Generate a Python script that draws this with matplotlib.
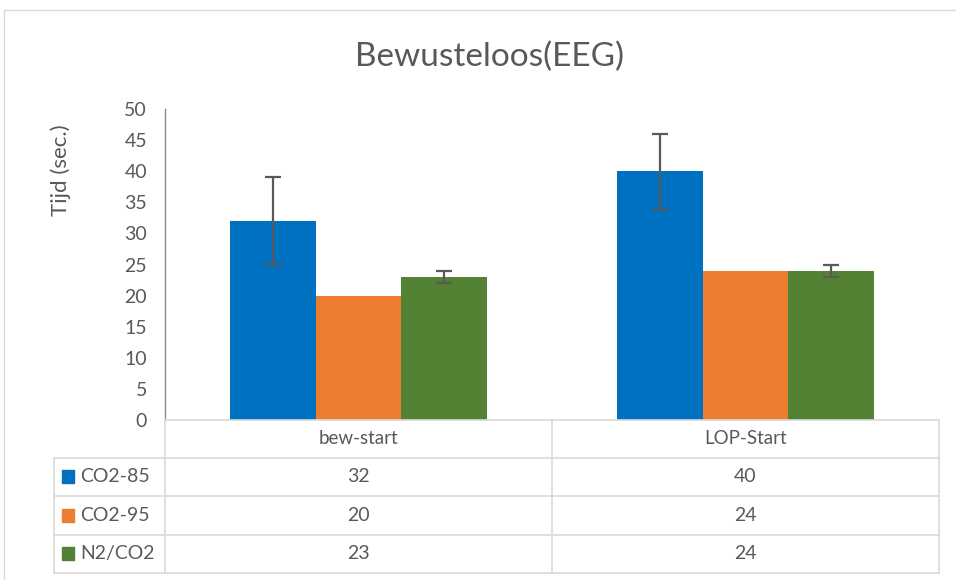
import numpy as np
import matplotlib.pyplot as plt
from matplotlib.patches import Rectangle
from matplotlib.transforms import blended_transform_factory

categories = ['bew-start', 'LOP-Start']
series = ['CO2-85', 'CO2-95', 'N2/CO2']
values = [[32, 40], [20, 24], [23, 24]]
errors = [[7, 6], [0, 0], [1, 1]]
colors = ['#0070C0', '#ED7D31', '#548235']

W, H = 956, 580
txt = '#595959'
grid = '#D9D9D9'

plt.rcParams['font.family'] = ['Lato', 'DejaVu Sans']

fig = plt.figure(figsize = (W / 100, H / 100), dpi = 100)

def fx(px):
    return px / W

def fy(py):
    return 1 - py / H

# chart border
fig.patches.append(Rectangle((fx(4), fy(600)), fx(970), fy(10) - fy(600), transform = fig.transFigure,
                             fill = False, edgecolor = grid, lw = 1))

ax = fig.add_axes([fx(165), fy(420), fx(939) - fx(165), fy(109) - fy(420)])
x = np.arange(len(categories))
w = 0.2216
for i, s in enumerate(series):
    ax.bar(x + (i - 1) * w, values[i], w, color = colors[i], label = s, zorder = 2)
    err = [e if e > 0 else np.nan for e in errors[i]]
    ax.errorbar(x + (i - 1) * w, values[i], yerr = err, fmt = 'none', ecolor = txt,
                elinewidth = 1.6, capsize = 6, capthick = 1.6, zorder = 3)

ax.set_xlim(-0.5, len(categories) - 0.5)
ax.set_ylim(0, 50)
ax.set_yticks(range(0, 51, 5))
ax.set_xticks([])
ax.tick_params(axis = 'y', length = 0, labelsize = 14, labelcolor = txt, pad = 13)
for sp in ['top', 'right']:
    ax.spines[sp].set_visible(False)
ax.spines['left'].set_color('#8C8C8C')
ax.spines['bottom'].set_color(grid)
ax.spines['left'].set_linewidth(1)
ax.spines['bottom'].set_linewidth(1.2)

fig.text(fx(61), fy(170), 'Tijd (sec.)', rotation = 90, ha = 'center', va = 'center',
         fontsize = 16, color = txt)
fig.text(fx(489), fy(57), 'Bewusteloos(EEG)', ha = 'center', va = 'center',
         fontsize = 24, color = txt)

# data table below the axis
tr = blended_transform_factory(ax.transData, fig.transFigure)
rows_y = [420, 457.7, 496, 534.7, 573]
bounds = np.arange(len(categories) + 1) - 0.5
for yy in rows_y[1:]:
    fig.add_artist(plt.Line2D([fx(54), fx(939)], [fy(yy), fy(yy)], transform = fig.transFigure,
                              color = grid, lw = 1.2))
for b in bounds:
    fig.add_artist(plt.Line2D([b, b], [fy(420), fy(573)], transform = tr, color = grid, lw = 1.2))
fig.add_artist(plt.Line2D([fx(54), fx(54)], [fy(457.7), fy(573)], transform = fig.transFigure,
                          color = grid, lw = 1.2))

for j, c in enumerate(categories):
    fig.text(x[j], fy((rows_y[0] + rows_y[1]) / 2), c, transform = tr, ha = 'center', va = 'center',
             fontsize = 13.5, color = txt)
for i, s in enumerate(series):
    yc = fy((rows_y[i + 1] + rows_y[i + 2]) / 2)
    fig.patches.append(Rectangle((fx(62), yc - (fy(0) - fy(6.5))), fx(12), fy(0) - fy(13),
                                 transform = fig.transFigure, color = colors[i]))
    fig.text(fx(80), yc, s, ha = 'left', va = 'center', fontsize = 14, color = txt)
    for j in range(len(categories)):
        fig.text(x[j], yc, str(values[i][j]), transform = tr, ha = 'center', va = 'center',
                 fontsize = 14, color = txt)

plt.savefig('out.png', dpi = 100)
